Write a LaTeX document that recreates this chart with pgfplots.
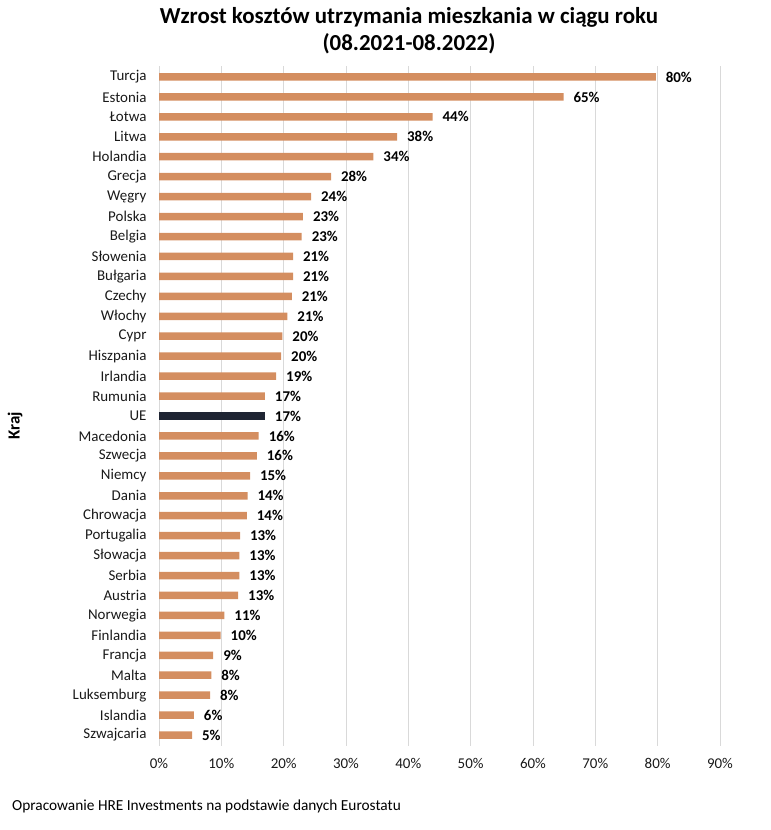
\documentclass[border=0pt]{standalone}
\usepackage{pgfplots}
\pgfplotsset{compat=1.18}
\usepackage{pgfplotstable}
\usepackage{fontspec}
\setmainfont{Carlito}
\definecolor{barc}{RGB}{212,142,96}
\definecolor{uec}{RGB}{31,37,51}
\definecolor{gridc}{RGB}{217,217,217}
\pgfplotstableread{
idx val lab
0 79.7 80
1 64.9 65
2 43.9 44
3 38.2 38
4 34.4 34
5 27.6 28
6 24.4 24
7 23.1 23
8 22.9 23
9 21.5 21
10 21.5 21
11 21.3 21
12 20.6 21
13 19.8 20
14 19.6 20
15 18.8 19
16 17.0 17
18 16.0 16
19 15.7 16
20 14.6 15
21 14.2 14
22 14.1 14
23 13.0 13
24 12.9 13
25 12.9 13
26 12.7 13
27 10.5 11
28 9.9 10
29 8.7 9
30 8.4 8
31 8.2 8
32 5.6 6
33 5.3 5
}\maindata
\pgfplotstableread{
idx val lab
17 17.0 17
}\uedata
\begin{document}
\begin{tikzpicture}
\path[use as bounding box] (0bp,0bp) rectangle (771bp,-830bp);
\begin{axis}[
  at={(159bp,-746bp)}, anchor=south west,
  scale only axis, width=561bp, height=680bp,
  xbar, bar width=7.5bp, bar shift=0pt,
  xmin=0, xmax=90, ymin=-0.55, ymax=33.55, y dir=reverse,
  xtick={0,10,...,90},
  xticklabel={\pgfmathprintnumber[assume math mode=true]{\tick}\%},
  ytick={0,...,33},
  yticklabels={Turcja,Estonia,Łotwa,Litwa,Holandia,Grecja,Węgry,Polska,Belgia,Słowenia,Bułgaria,Czechy,Włochy,Cypr,Hiszpania,Irlandia,Rumunia,UE,Macedonia,Szwecja,Niemcy,Dania,Chrowacja,Portugalia,Słowacja,Serbia,Austria,Norwegia,Finlandia,Francja,Malta,Luksemburg,Islandia,Szwajcaria},
  major tick length=0pt,
  axis line style={draw=none},
  xmajorgrids, grid style={gridc, line width=0.8bp},
  tick label style={font=\fontsize{15}{17}\selectfont, text=black!90},
  xticklabel style={yshift=-9bp},
  yticklabel style={xshift=-9bp},
  point meta=explicit symbolic,
  nodes near coords={\pgfplotspointmeta\%},
  nodes near coords style={font=\bfseries\fontsize{15}{17}\selectfont, anchor=west, xshift=6.5bp, text=black},
  clip=false,
]
\addplot[fill=barc, draw=none] table[x=val, y=idx, meta=lab] {\maindata};
\addplot[fill=uec, draw=none] table[x=val, y=idx, meta=lab] {\uedata};
\end{axis}
\node[font=\bfseries\fontsize{23}{27}\selectfont, align=center] at (409bp,-31bp) {Wzrost kosztów utrzymania mieszkania w ciągu roku\\(08.2021-08.2022)};
\node[font=\bfseries\fontsize{17}{20}\selectfont, rotate=90] at (15bp,-426bp) {Kraj};
\node[font=\fontsize{15.4}{18}\selectfont, anchor=west, inner sep=0pt] at (12bp,-806bp) {Opracowanie HRE Investments na podstawie danych Eurostatu};
\end{tikzpicture}
\end{document}
